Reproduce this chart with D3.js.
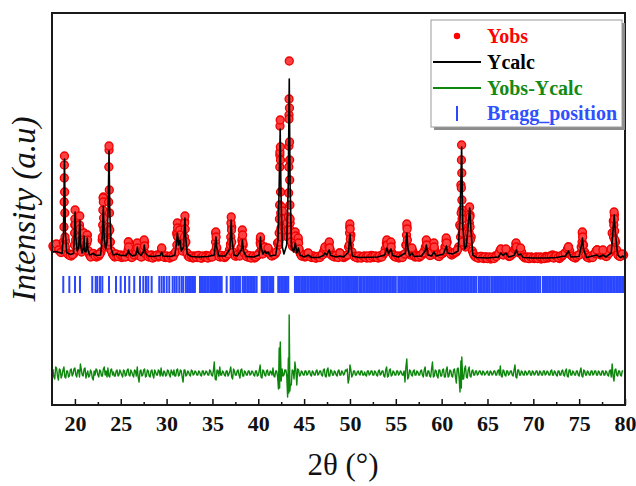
<!DOCTYPE html>
<html><head><meta charset="utf-8">
<script src="https://cdn.jsdelivr.net/npm/d3@7"></script>
<style>body{margin:0;background:#fff} svg{display:block}</style>
</head><body>
<svg id="chart" width="636" height="486"></svg>
<script>
// ---------- data ----------
const xTickValues = [20,25,30,35,40,45,50,55,60,65,70,75,80];
const xMinorTicks = [22.5,27.5,32.5,37.5,42.5,47.5,52.5,57.5,62.5,67.5,72.5,77.5];

// observed intensity, scan A (start 17.6, step 0.25)
const yobsStartA = 17.6, yobsStep = 0.25;
const yobsScanA = [
290,300,270,240,230,1100,230,200,190,210,
420,260,380,250,260,400,200,190,210,180,
190,230,780,300,420,330,210,180,200,190,
175,195,185,330,180,190,200,300,200,185,
330,195,180,200,175,190,180,215,190,175,
185,170,190,210,420,400,260,300,330,190,
180,170,190,175,185,170,180,195,175,185,
200,420,195,180,190,175,200,250,480,210,
190,200,270,300,195,180,175,185,170,190,
220,250,220,240,260,200,195,210,320,1200,
600,470,510,1600,360,280,350,350,210,190,
180,215,200,175,185,170,180,195,230,260,
280,250,190,180,195,220,185,175,190,280,
400,200,180,170,185,175,190,170,180,195,
175,185,170,190,200,260,300,280,220,185,
180,170,190,200,300,260,200,240,180,195,
180,200,240,340,210,200,300,210,190,200,
215,280,330,230,200,215,230,280,900,420,
280,450,600,240,190,175,170,185,165,180,
170,160,175,190,200,240,230,215,245,185,
200,240,310,230,260,190,170,180,165,175,
165,180,170,160,175,185,170,190,200,175,
180,165,185,210,230,280,200,180,170,195,
210,420,230,180,170,190,200,240,230,200,
245,190,200,230,420,600,250,190,195,200];

// observed intensity, scan B (start 17.725, step 0.25)
const yobsStartB = 17.725;
const yobsScanB = [
270,310,250,225,330,340,210,195,205,500,
250,360,230,400,250,240,180,215,190,200,
210,350,400,280,1250,240,195,210,185,200,
190,180,220,210,175,200,230,195,180,250,
210,185,195,170,185,200,195,260,180,190,
175,190,185,230,380,440,240,540,220,180,
190,175,180,195,170,190,180,170,190,180,
230,270,185,195,180,190,210,310,230,190,
200,190,340,220,185,195,170,190,180,200,
360,210,270,230,220,190,205,230,300,470,
530,440,400,520,290,280,260,240,190,200,
190,210,180,190,170,185,175,200,260,220,
320,200,185,195,175,210,180,190,200,480,
230,185,175,190,170,185,175,190,170,185,
190,175,190,180,220,320,240,320,200,180,
190,180,175,210,480,220,260,195,185,180,
195,220,280,250,195,230,260,200,185,210,
230,340,240,210,220,230,250,500,650,300,
330,600,380,210,180,170,185,170,180,165,
180,175,165,185,210,255,200,250,200,190,
210,260,270,220,230,180,175,165,180,170,
175,165,180,175,165,175,180,185,170,190,
175,190,200,220,260,240,190,175,185,200,
280,300,200,175,185,175,215,250,210,230,
210,185,215,260,540,330,200,185,210];

// observed points on the peak flanks [2θ, intensity]
const yobsPeaks = [
[18.79,300],[18.81,480],[18.83,730],[18.84,970],[18.86,1190],[18.88,830],[18.9,620],[18.92,380],[18.95,280],
[19.95,300],[19.97,420],[19.99,560],[20.02,650],[20.05,500],[20.08,350],
[20.48,380],[20.5,500],[20.53,590],[20.56,460],[20.6,340],
[20.96,360],[20.99,420],[21.02,330],
[21.3,320],[21.33,400],[21.38,350],
[23.0,380],[23.03,500],[23.05,650],[23.08,770],[23.1,730],[23.13,570],[23.16,450],[23.2,330],
[23.6,300],[23.62,350],[23.65,480],[23.68,730],[23.7,1080],[23.72,1290],[23.75,850],[23.77,620],[23.8,450],[23.84,330],
[25.8,250],[25.82,330],[25.86,280],
[26.8,320],[26.84,270],
[27.5,260],[27.55,350],[27.6,290],
[29.46,270],
[31.12,300],[31.14,400],[31.17,520],[31.2,470],[31.23,380],
[31.4,340],[31.44,450],[31.48,400],[31.52,330],
[31.92,300],[31.95,380],[31.97,520],[32.0,590],[32.03,460],[32.06,330],
[35.34,330],[35.37,430],[35.4,380],[35.43,280],
[36.97,300],[37.0,380],[37.02,520],[37.05,580],[37.08,450],[37.1,330],
[38.2,280],[38.23,360],[38.26,450],[38.29,400],[38.32,320],
[40.21,320],[40.24,380],[40.27,300],
[40.73,280],[41.06,270],
[42.25,330],[42.28,420],[42.31,560],[42.33,700],[42.35,1080],[42.36,1230],[42.37,1490],[42.39,1550],[42.41,1280],[42.42,1150],[42.43,830],[42.45,620],[42.47,450],[42.5,380],
[42.55,680],[42.62,640],[42.7,560],[42.8,480],[42.95,450],[43.05,500],[43.15,520],
[43.22,380],[43.27,450],[43.3,580],[43.31,820],[43.33,1080],[43.34,1290],[43.35,1560],[43.36,1760],[43.38,2140],[43.4,1670],[43.41,1330],[43.42,1150],[43.43,950],[43.45,700],[43.47,560],[43.5,450],[43.55,380],[43.6,330],
[44.0,330],[44.03,430],[44.06,390],[44.1,300],
[44.36,370],[44.4,320],[44.45,260],
[45.45,220],
[47.27,280],[47.7,290],[47.74,330],[47.78,270],
[48.91,220],
[49.93,300],[49.96,420],[49.99,510],[50.02,460],[50.04,360],
[54.02,350],[54.06,300],[54.46,330],[54.5,280],
[56.14,300],[56.17,400],[56.2,510],[56.23,460],[56.26,350],
[56.76,270],
[58.3,280],[58.33,350],[58.37,300],
[59.16,320],[59.19,280],
[60.47,290],[60.5,370],[60.54,320],
[62.07,380],[62.1,480],[62.13,620],[62.15,870],[62.16,1150],[62.18,1300],[62.2,1020],[62.21,750],[62.23,560],[62.25,420],[62.28,330],
[62.97,330],[63.0,420],[63.02,520],[63.05,680],[63.08,580],[63.1,480],[63.13,350],
[66.46,260],[67.01,260],
[68.09,270],[68.12,320],[68.16,280],[68.61,270],
[73.82,280],
[75.32,330],[75.35,430],[75.38,380],[75.41,300],
[76.94,250],[77.59,250],
[78.75,380],[78.78,500],[78.81,630],[78.84,560],[78.87,440],[78.9,350]
];

// calculated profile vertices [2θ, intensity]
const ycalcPts = [
[17.55,230],[17.9,235],[18.3,225],[18.6,215],[18.75,400],[18.86,1160],[18.96,420],[19.1,225],[19.5,205],
[19.85,215],[19.95,420],[20.02,630],[20.1,380],[20.25,240],[20.42,280],[20.53,550],[20.62,300],[20.78,220],
[20.92,270],[20.99,390],[21.06,240],[21.2,230],[21.29,280],[21.35,370],[21.42,250],[21.6,200],[22.0,215],
[22.3,195],[22.8,200],[22.98,380],[23.1,690],[23.2,360],[23.35,260],[23.5,330],[23.63,700],[23.72,1240],
[23.8,650],[23.95,260],[24.2,200],[24.6,210],[25.0,195],[25.6,195],[25.75,220],[25.84,250],[25.93,215],
[26.3,190],[26.65,200],[26.75,240],[26.82,280],[26.9,225],[27.2,195],[27.45,230],[27.57,300],[27.67,220],
[28.0,190],[28.5,185],[29.3,195],[29.46,230],[29.6,190],[30.5,185],[30.9,200],[31.08,320],[31.19,420],
[31.3,300],[31.46,350],[31.6,240],[31.85,280],[31.93,450],[32.0,570],[32.08,380],[32.25,210],[32.7,185],
[33.5,180],[34.5,185],[35.2,200],[35.32,320],[35.38,380],[35.46,280],[35.7,190],[36.4,190],[36.9,260],
[36.98,420],[37.05,550],[37.13,350],[37.35,200],[37.7,190],[38.15,250],[38.27,350],[38.38,240],[38.7,185],
[39.5,180],[40.1,200],[40.2,330],[40.24,380],[40.3,280],[40.5,210],[40.73,240],[40.9,215],[41.06,230],
[41.3,190],[41.9,200],[42.15,350],[42.28,900],[42.39,1460],[42.48,800],[42.62,280],[42.8,210],[43.1,300],
[43.27,900],[43.38,1960],[43.47,900],[43.62,280],[43.85,230],[44.05,320],[44.2,220],[44.38,270],[44.55,200],
[45.0,180],[45.45,200],[45.8,175],[46.6,175],[47.1,195],[47.27,220],[47.45,200],[47.74,250],[47.9,195],
[48.5,180],[48.91,190],[49.3,180],[49.85,230],[49.95,360],[50.0,410],[50.07,330],[50.25,190],[51.0,175],
[52.0,178],[53.0,180],[53.8,200],[54.03,270],[54.2,215],[54.47,260],[54.65,195],[55.3,180],[56.05,220],
[56.14,360],[56.21,420],[56.3,280],[56.5,190],[56.76,220],[57.0,185],[57.8,190],[58.2,240],[58.34,300],
[58.5,200],[58.9,190],[59.16,230],[59.4,190],[60.2,210],[60.4,260],[60.52,290],[60.65,220],[61.2,210],
[61.8,240],[62.02,600],[62.18,1280],[62.3,500],[62.5,260],[62.7,290],[62.92,520],[63.06,670],[63.2,450],
[63.4,200],[63.8,175],[65.0,170],[66.2,180],[66.46,220],[66.7,195],[67.01,220],[67.3,180],[67.9,195],
[68.13,250],[68.35,200],[68.61,210],[68.9,175],[70.0,170],[71.5,170],[72.5,175],[73.5,190],[73.83,240],
[74.1,180],[75.0,185],[75.25,300],[75.36,370],[75.47,260],[75.8,175],[76.94,200],[77.2,180],[77.59,200],
[77.9,180],[78.5,220],[78.68,430],[78.82,600],[78.95,420],[79.2,200],[79.5,175],[79.77,190],[79.9,175]
];

// Yobs - Ycalc, scan A (start 17.6, step 0.2)
const diffStartA = 17.6, diffStep = 0.2;
const diffScanA = [
40,-60,50,-70,30,-20,60,-50,20,-30,
40,-10,50,-40,30,90,-20,40,-50,20,
-30,10,-70,-20,30,-40,20,-30,60,20,
50,-40,40,10,-30,30,-20,10,-40,20,
-20,40,-30,10,-40,20,60,-90,30,-20,
40,-30,20,-40,30,-50,10,-20,20,50,
-30,10,-20,20,-40,10,30,-30,40,-20,
20,-90,30,-20,10,-30,20,-10,10,-20,
10,-30,20,-10,10,-20,20,-30,110,-70,
20,60,-20,10,-30,20,-10,60,-60,20,
-20,30,-50,40,-30,10,-20,20,-10,10,
-30,20,-20,80,-50,20,-30,30,-20,10,
50,-40,20,-160,310,40,-20,30,-240,300,
-120,20,110,-120,30,-20,10,-20,20,-10,
20,-30,10,-20,30,-10,20,-30,40,-40,
50,-30,20,-20,10,-30,30,-20,10,-10,
20,-100,80,-40,20,-20,10,-10,20,-20,
10,-30,20,-10,20,-20,10,-30,30,-10,
20,-40,60,-30,40,-20,10,-20,20,-10,
10,-20,-90,140,-40,20,-30,30,-20,10,
-20,30,-40,60,-30,20,-40,110,-30,20,
-50,30,-30,40,-40,60,-30,20,-40,40,
-100,50,-190,160,-60,70,-50,60,-40,30,
-20,20,-10,20,-20,10,-10,20,-20,10,
-10,20,-20,30,70,-40,20,-30,20,-10,
20,-30,80,-50,30,-20,10,-20,10,-10,
20,-20,10,-10,20,-20,10,-20,20,-10,
10,-20,30,-20,10,-30,20,-20,30,-30,
40,-40,30,-20,10,-20,20,-30,50,-40,
20,-20,10,-20,20,-10,20,-20,10,-20,
20,-20,10,-30,30,90,-80,40,-30,20,
-30,20];
// Yobs - Ycalc, scan B (start 17.7, step 0.2)
const diffStartB = 17.7;
const diffScanB = [
-40,60,-30,40,-50,30,-40,20,-40,30,
-30,40,-20,30,-40,30,-30,50,-10,-40,
30,-50,20,40,-20,30,-30,40,-20,-40,
-30,30,-20,-30,20,-30,30,-20,30,-30,
30,-20,30,-20,30,-30,-40,20,-30,30,
-40,30,-30,20,-20,30,-20,30,-30,-20,
20,-30,30,-20,30,-20,-30,30,-30,30,
-40,30,-30,20,-20,30,-20,20,-20,20,
-20,20,-20,20,-20,30,-20,20,-60,30,
-30,-20,20,-20,20,-30,20,-40,40,-20,
20,-20,30,-30,20,-20,20,-20,20,-20,
20,-30,20,-40,30,-20,20,-20,20,-20,
-30,20,-30,40,-80,-30,30,-20,60,-120,
30,-60,30,40,-30,20,-20,20,-20,20,
-20,20,-20,20,-20,20,-20,30,-30,30,
-30,30,-20,20,-20,20,-20,20,-20,30,
40,-60,30,-20,20,-20,20,-20,20,-20,
-20,20,-20,20,-20,20,-20,20,-20,20,
-30,30,-40,30,-30,20,-20,20,-20,20,
-20,20,60,-60,30,-20,20,-20,20,-20,
20,-20,30,-30,20,-30,40,-40,30,-30,
30,-30,30,-40,30,-40,30,-30,30,-30,
40,-40,60,-60,40,-40,30,-30,20,-20,
20,-20,20,-10,20,-20,10,-20,20,-20,
20,-20,20,-20,-30,30,-20,20,-20,20,
-20,30,-40,30,-20,20,-20,20,-20,20,
-20,20,-20,20,-20,20,-20,20,-20,20,
-20,20,-20,20,-20,20,-20,20,-20,20,
-30,30,-20,20,-20,20,-20,20,-30,30,
-20,20,-20,20,-20,20,-20,20,-20,20,
-20,20,-20,20,-40,-30,30,-20,20,-20,
20];
const diffExtra = [[42.28,250],[42.33,-150],[43.28,150],[43.33,-200],[43.37,580],[43.45,-180],[62.1,120],[62.15,-150]];

// Bragg reflection positions (2θ)
const braggPos = [
18.73,19.39,20.01,20.55,21.89,22.27,22.44,22.73,22.99,23.72,24.48,24.99,25.46,25.93,26.47,27.1,27.46,27.75,28.0,28.37,
29.2,29.46,29.71,30.01,30.29,30.66,30.88,31.1,31.38,31.64,31.82,32.11,32.33,32.5,32.65,32.8,32.95,33.09,
33.64,33.8,33.95,34.1,34.28,34.45,34.6,34.78,34.95,35.1,35.28,35.45,35.6,35.78,35.92,36.01,36.55,
36.99,37.15,37.3,37.48,37.65,37.8,38.0,38.3,38.46,38.62,38.8,38.96,39.12,39.3,39.45,39.62,39.82,
40.37,40.52,40.7,40.86,41.02,41.2,41.35,41.5,41.63,42.18,42.34,42.5,42.66,42.82,42.98,43.12,43.27,
44.0,44.17,44.34,44.5,44.68,44.85,45.0,45.18,45.35,45.5,45.68,45.85,46.0,46.18,46.34,46.5,46.68,46.84,47.0,47.18,
47.34,47.5,47.68,47.85,48.0,48.17,48.34,48.5,48.68,48.84,49.0,49.18,49.34,49.5,49.68,49.85,50.0,50.18,50.34,50.5,
50.66,50.79,51.01,51.14,51.27,51.45,51.62,51.8,51.96,52.13,52.3,52.46,52.63,52.8,52.96,53.13,53.3,53.46,53.63,53.8,
53.96,54.13,54.3,54.46,54.63,54.8,55.0,55.27,55.44,55.6,55.77,55.94,56.1,56.27,56.44,56.6,56.77,56.94,57.1,57.27,
57.44,57.6,57.77,57.94,58.1,58.27,58.44,58.6,58.77,58.94,59.1,59.25,59.45,59.62,59.78,59.95,60.12,60.28,60.45,60.62,
60.78,60.95,61.12,61.28,61.45,61.62,61.78,61.95,62.12,62.28,62.45,62.62,62.78,62.95,63.12,63.28,63.45,63.62,63.78,
64.05,64.2,64.37,64.54,64.7,64.87,65.04,65.2,65.42,65.58,65.75,65.92,66.08,66.25,66.42,66.58,66.75,66.92,67.08,67.25,
67.42,67.58,67.75,67.92,68.08,68.25,68.42,68.58,68.75,68.92,69.08,69.25,69.42,69.58,69.75,69.92,70.08,70.25,70.42,
70.58,70.75,71.05,71.22,71.38,71.55,71.72,71.88,72.05,72.22,72.38,72.55,72.72,72.88,73.05,73.22,73.38,73.55,73.72,
73.88,74.05,74.22,74.38,74.55,74.72,74.88,75.05,75.22,75.38,75.55,75.72,75.88,76.05,76.22,76.38,76.55,76.72,76.88,
77.05,77.22,77.38,77.55,77.72,77.88,78.05,78.22,78.38,78.55,78.72,78.88,79.05,79.22,79.38,79.55,79.72,79.88];

const legendLabels = ["Yobs", "Ycalc", "Yobs-Ycalc", "Bragg_position"];
const legendColors = ["#ff0000", "#000000", "#138a13", "#3050ff"];

// ---------- layout constants ----------
const frame = {left: 52, top: 13, right: 625, bottom: 405};
const diffOffset = -980;       // vertical offset of the difference curve (intensity units)
const braggBand = [-10, -180]; // top / bottom of the Bragg ticks (intensity units)
const serif = '"Liberation Serif", "Times New Roman", Times, serif';

const svg = d3.select('#chart');
const x = d3.scaleLinear().domain([17.5, 80]).range([frame.left, frame.right]);
const y = d3.scaleLinear().domain([-1300, 2620]).range([frame.bottom, frame.top]);

// Yobs circles
const yobsAll = yobsScanA.map((v, i) => [yobsStartA + i * yobsStep, v])
  .concat(yobsScanB.map((v, i) => [yobsStartB + i * yobsStep, v]))
  .concat(yobsPeaks);
svg.append('g').selectAll('circle').data(yobsAll).join('circle')
  .attr('cx', d => x(d[0])).attr('cy', d => y(d[1])).attr('r', 4)
  .attr('fill', '#ff4040').attr('stroke', '#f00000').attr('stroke-width', 1.3);

// Ycalc line
svg.append('path').datum(ycalcPts)
  .attr('d', d3.line().x(d => x(d[0])).y(d => y(d[1])))
  .attr('fill', 'none').attr('stroke', '#000').attr('stroke-width', 1.6).attr('stroke-linejoin', 'round');

// Bragg ticks
svg.append('g').selectAll('line').data(braggPos).join('line')
  .attr('x1', d => x(d)).attr('x2', d => x(d))
  .attr('y1', y(braggBand[0])).attr('y2', y(braggBand[1]))
  .attr('stroke', '#2a46ff').attr('stroke-width', 2);

// difference curve
const diffPts = diffScanA.map((v, i) => [diffStartA + i * diffStep, v])
  .concat(diffScanB.map((v, i) => [diffStartB + i * diffStep, v]))
  .concat(diffExtra)
  .sort((a, b) => a[0] - b[0]);
svg.append('path').datum(diffPts)
  .attr('d', d3.line().x(d => x(d[0])).y(d => y(d[1] + diffOffset)))
  .attr('fill', 'none').attr('stroke', '#0c870c').attr('stroke-width', 1.4).attr('stroke-linejoin', 'round');

// x axis (ticks pointing inward)
const gx = svg.append('g').attr('transform', `translate(0,${frame.bottom})`)
  .call(d3.axisBottom(x).tickValues(xTickValues).tickSizeInner(-6).tickSizeOuter(0).tickPadding(10));
gx.attr('font-family', serif).attr('font-size', 22).attr('font-weight', 'bold');
gx.select('.domain').remove();
gx.selectAll('.tick line').attr('stroke', '#111').attr('stroke-width', 1.5);
gx.selectAll('.tick text').attr('fill', '#111');
const gm = svg.append('g').attr('transform', `translate(0,${frame.bottom})`)
  .call(d3.axisBottom(x).tickValues(xMinorTicks).tickSizeInner(-3).tickSizeOuter(0).tickFormat(''));
gm.select('.domain').remove();
gm.selectAll('.tick line').attr('stroke', '#111').attr('stroke-width', 1.5);

// frame
svg.append('rect').attr('x', frame.left).attr('y', frame.top)
  .attr('width', frame.right - frame.left).attr('height', frame.bottom - frame.top)
  .attr('fill', 'none').attr('stroke', '#1a1a1a').attr('stroke-width', 2);

// axis titles
svg.append('text').attr('x', 343).attr('y', 475).attr('text-anchor', 'middle')
  .attr('font-family', serif).attr('font-size', 31).attr('fill', '#111').text('2θ (°)');
svg.append('text').attr('transform', 'translate(35,209) rotate(-90)').attr('text-anchor', 'middle')
  .attr('font-family', serif).attr('font-size', 33).attr('font-style', 'italic').attr('fill', '#111')
  .text('Intensity (a.u)');

// legend
const lg = {x: 431, y: 20, w: 191, h: 107};
svg.append('rect').attr('x', lg.x + 3).attr('y', lg.y + 3).attr('width', lg.w).attr('height', lg.h).attr('fill', '#8c8c8c');
svg.append('rect').attr('x', lg.x).attr('y', lg.y).attr('width', lg.w).attr('height', lg.h)
  .attr('fill', '#fff').attr('stroke', '#9a9a9a').attr('stroke-width', 1);
const rowsY = [36, 62, 88, 113];
legendLabels.forEach((lab, i) => {
  const cy = rowsY[i];
  if (i === 0) {
    svg.append('circle').attr('cx', 457).attr('cy', cy).attr('r', 3.2).attr('fill', legendColors[i]);
  } else if (i === 3) {
    svg.append('line').attr('x1', 457).attr('x2', 457).attr('y1', cy - 7).attr('y2', cy + 8)
      .attr('stroke', '#2a46ff').attr('stroke-width', 2);
  } else {
    svg.append('line').attr('x1', 433).attr('x2', 481).attr('y1', cy).attr('y2', cy)
      .attr('stroke', i === 1 ? '#000' : '#0c870c').attr('stroke-width', 1.8);
  }
  svg.append('text').attr('x', 487).attr('y', cy + 7)
    .attr('font-family', serif).attr('font-size', 20).attr('font-weight', 'bold')
    .attr('fill', legendColors[i]).text(lab);
});
</script>
</body></html>
